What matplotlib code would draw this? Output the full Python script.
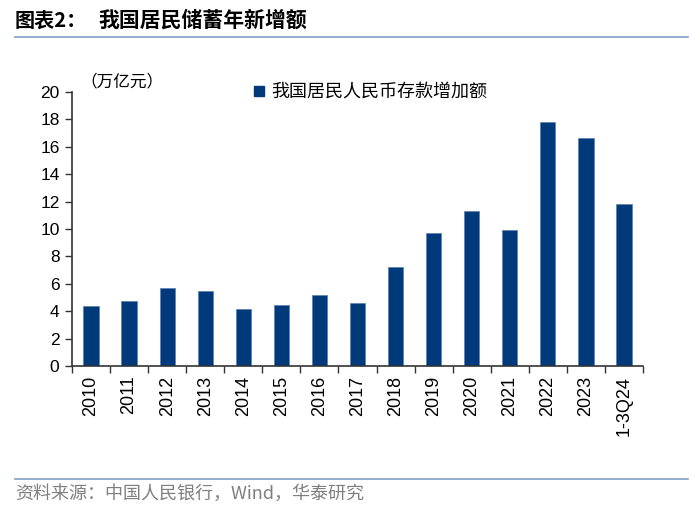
import matplotlib
matplotlib.use("Agg")
import matplotlib.pyplot as plt
import numpy as np
from matplotlib.lines import Line2D

plt.rcParams['font.family'] = ['Liberation Sans', 'Noto Sans CJK SC', 'DejaVu Sans']

categories = ["2010", "2011", "2012", "2013", "2014", "2015", "2016", "2017",
              "2018", "2019", "2020", "2021", "2022", "2023", "1-3Q24"]
values = [4.38, 4.74, 5.69, 5.47, 4.16, 4.45, 5.18, 4.6,
          7.23, 9.7, 11.3, 9.9, 17.8, 16.62, 11.82]
yticks = [0, 2, 4, 6, 8, 10, 12, 14, 16, 18, 20]
series_name = "我国居民人民币存款增加额"

bar_color = "#003A7A"
cjk = ['Noto Sans CJK SC', 'DejaVu Sans']

fig = plt.figure(figsize=(7.0, 5.08), dpi=100)
ax = fig.add_axes([72/700, 1-366/508, (643-72)/700, (366-92)/508])

x = np.arange(len(categories))
ax.bar(x, values, width=0.4, color=bar_color, edgecolor="#5a7fb0", linewidth=0.5, zorder=2)

ax.set_xlim(-0.5, len(categories)-0.5)
ax.set_ylim(0, 20)
ax.set_yticks(yticks)
ax.set_yticklabels([str(v) for v in yticks], fontsize=12.5)
ax.set_xticks(x)
ax.set_xticklabels(categories, rotation=90, fontsize=13)
ax.tick_params(axis='x', which='major', length=0, pad=7)
ax.set_xticks(np.arange(-0.5, len(categories), 1.0), minor=True)
ax.tick_params(axis='x', which='minor', length=5, width=1, color="#333333", direction='out')
ax.tick_params(axis='y', length=5, width=1, color="#333333", direction='out', pad=4)
for s in ['top', 'right']:
    ax.spines[s].set_visible(False)
for s in ['left', 'bottom']:
    ax.spines[s].set_color("#333333")
    ax.spines[s].set_linewidth(1.2)

# unit label
fig.text(80/700, 1-82/508, "（万亿元）", fontsize=12, family=cjk, va='center', ha='left')

# legend
handle = Line2D([], [], marker='s', linestyle='none', color=bar_color, markersize=7)
leg = ax.legend([handle], [series_name], loc='upper left', bbox_to_anchor=(250/700, 1-83/508),
                bbox_transform=fig.transFigure, frameon=False, prop={'family': cjk, 'size': 13},
                handletextpad=0.2, handlelength=1.0, borderaxespad=0, borderpad=0)

# title
fig.text(15/700, 1-20/508, "图表2：", fontsize=14.5, fontweight='bold',
         family=cjk, va='center', ha='left')
fig.text(98/700, 1-20/508, "我国居民储蓄年新增额", fontsize=15, fontweight='bold',
         family=cjk, va='center', ha='left')
fig.add_artist(Line2D([15/700, 688/700], [1-37/508, 1-37/508], color="#7f9fc8", linewidth=1.2,
                      transform=fig.transFigure))
# footer
fig.add_artist(Line2D([15/700, 688/700], [1-479/508, 1-479/508], color="#7f9fc8", linewidth=1.2,
                      transform=fig.transFigure))
fig.text(15/700, 1-494/508, "资料来源：中国人民银行，Wind，华泰研究", fontsize=13, color="#7f7f7f",
         family=cjk, va='center', ha='left')

fig.savefig("out.png", dpi=100)
